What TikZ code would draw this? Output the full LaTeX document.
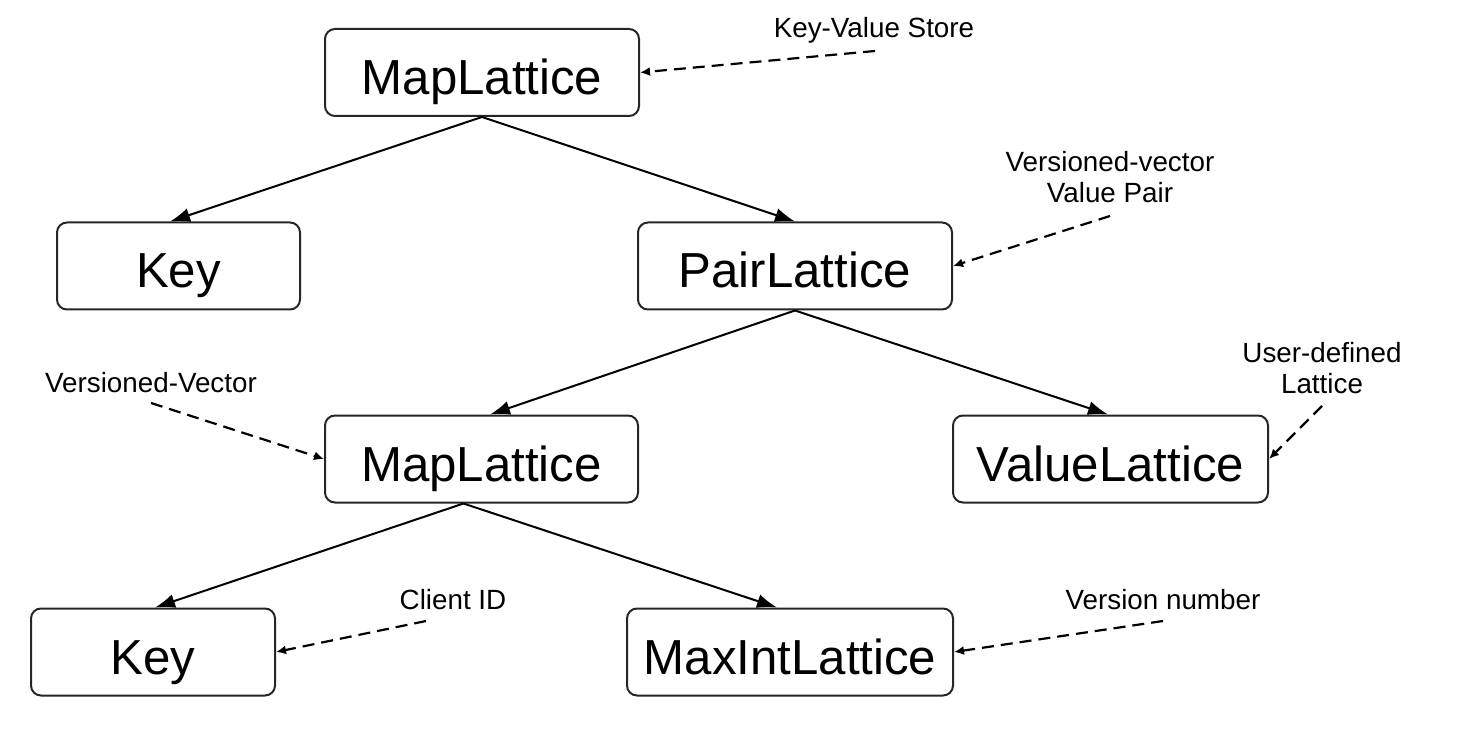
\documentclass[tikz,border=0pt]{standalone}
\usepackage{fontspec}
\setmainfont{Liberation Sans}
\usetikzlibrary{arrows.meta}
\begin{document}
\begin{tikzpicture}[x=0.5pt,y=-0.5pt,
  box/.style={draw=black!85,line width=1pt,rounded corners=5pt,inner sep=0pt,
    minimum width=#1,minimum height=43.5pt,text height=22pt,text depth=0pt,
    font=\fontsize{24.6pt}{28pt}\selectfont},
  edge/.style={line width=1pt,-{Latex[length=10pt,width=7pt]}},
  note/.style={inner sep=0pt,anchor=base,align=center,font=\fontsize{13.9pt}{15.5pt}\selectfont},
  hint/.style={line width=1.1pt,dash pattern=on 6pt off 3.5pt,-{Latex[length=5pt,width=4.5pt]}}]
\useasboundingbox (0,0) rectangle (1470,748);
% boxes
\node[box=157pt] (m1) at (482,72.5) {MapLattice};
\node[box=121.5pt] (k1) at (178.5,266) {Key};
\node[box=157pt] (p) at (795,266) {PairLattice};
\node[box=156.5pt] (m2) at (481.5,459) {MapLattice};
\node[box=157.5pt] (v) at (1110.5,459) {ValueLattice};
\node[box=122pt] (k2) at (153,652) {Key};
\node[box=163pt] (mx) at (790,652) {MaxIntLattice};
% tree edges
\draw[edge] (m1.south) -- ([xshift=-4.25pt]k1.north);
\draw[edge] (m1.south) -- (p.north);
\draw[edge] (p.south) -- ([xshift=4.25pt]m2.north);
\draw[edge] (p.south) -- ([xshift=-1.25pt]v.north);
\draw[edge] ([xshift=-9pt]m2.south) -- ([xshift=1pt]k2.north);
\draw[edge] ([xshift=-9pt]m2.south) -- ([xshift=-6.5pt]mx.north);
% notes
\node[note] (t1) at (874,38) {Key-Value Store};
\node[note] (t2) at (1110,203) {Versioned-vector\\Value Pair};
\node[note] (t3) at (151,392) {Versioned-Vector};
\node[note] (t4) at (1322,393) {User-defined\\Lattice};
\node[note] (t5) at (453,609) {Client ID};
\node[note] (t6) at (1163,609) {Version number};
\coordinate (s1) at (875,51);
\coordinate (s2) at (1110,216);
\coordinate (s3) at (151,403);
\coordinate (s4) at (1322,406);
\coordinate (s5) at (426,621);
\coordinate (s6) at (1163,621);
\draw[hint] (s1) -- (m1.east);
\draw[hint] (s2) -- (p.east);
\draw[hint] (s3) -- (m2.west);
\draw[hint] (s4) -- (v.east);
\draw[hint] (s5) -- (k2.east);
\draw[hint] (s6) -- (mx.east);
\end{tikzpicture}
\end{document}
